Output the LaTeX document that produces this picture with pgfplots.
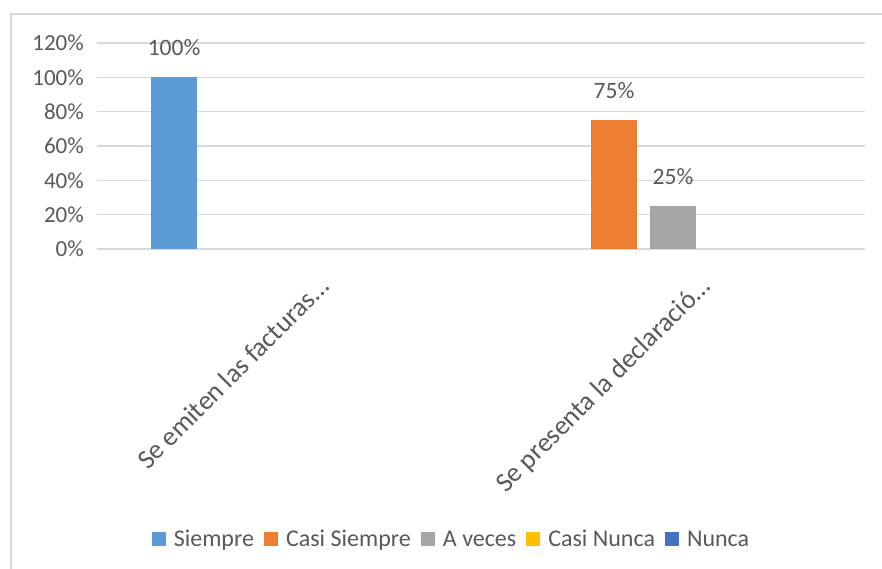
\documentclass[border=0pt]{standalone}
\usepackage{fontspec}
\setmainfont{Carlito}
\usepackage{pgfplots}
\pgfplotsset{compat=1.18}
\definecolor{cSiempre}{HTML}{5B9BD5}
\definecolor{cCasiSiempre}{HTML}{ED7D31}
\definecolor{cAveces}{HTML}{A5A5A5}
\definecolor{cCasiNunca}{HTML}{FFC000}
\definecolor{cNunca}{HTML}{4472C4}
\definecolor{gridc}{HTML}{D9D9D9}
\definecolor{txt}{HTML}{595959}
\begin{document}
\begin{tikzpicture}[x=1pt,y=1pt]
\useasboundingbox (0,0) rectangle (882,569);
\fill[white] (0,0) rectangle (882,569);
\draw[color=gridc, line width=1.2pt] (11,0) -- (11,555) -- (882,555);
\begin{axis}[
  at={(97pt,320pt)}, anchor=south west,
  width=768pt, height=206pt, scale only axis,
  xmin=-0.512, xmax=1.504, ymin=0, ymax=120,
  ybar=13pt, bar width=46pt,
  ytick={0,20,40,60,80,100,120},
  /pgf/number format/assume math mode=true,
  yticklabel={\pgfmathprintnumber{\tick}\%},
  xtick={0,1},
  xticklabels={Se emiten las facturas…, Se presenta la declaració…},
  axis line style={draw=none},
  tick style={draw=none},
  major tick length=0pt,
  ymajorgrids,
  grid style={color=gridc, line width=1.3pt},
  yticklabel style={font=\fontsize{23}{28}\selectfont, text=txt, anchor=east, inner sep=0pt, xshift=-13pt},
  xticklabel style={font=\fontsize{27}{32}\selectfont, text=txt, inner sep=0pt, xshift=25pt, yshift=-26pt, rotate=45, anchor=north east},
  nodes near coords={\pgfmathprintnumber{\pgfplotspointmeta}\%},
  every node near coord/.append style={font=\fontsize{23.5}{28}\selectfont, text=txt, inner sep=0pt, yshift=21pt},
  legend style={at={(0.4616,-1.417)}, anchor=center, draw=none, fill=none,
    font=\fontsize{24}{29}\selectfont, text=txt,
    nodes={text height=0.7em, text depth=0.22em},
    /tikz/every even column/.append style={column sep=8pt}},
  legend columns=5,
  legend image code/.code={\fill[#1] (0pt,-2pt) rectangle (14pt,12pt); \path (20pt,0pt);},
]
\addplot[fill=cSiempre, draw=none] coordinates {(0,100)};
\addplot[fill=cCasiSiempre, draw=none] coordinates {(1,75)};
\addplot[fill=cAveces, draw=none] coordinates {(1,25)};
\addplot[fill=none, draw=none, nodes near coords=,
  legend image code/.code={\fill[cCasiNunca] (0pt,-2pt) rectangle (14pt,12pt); \path (20pt,0pt);}]
  coordinates {(0,0) (1,0)};
\addplot[fill=none, draw=none, nodes near coords=,
  legend image code/.code={\fill[cNunca] (0pt,-2pt) rectangle (14pt,12pt); \path (20pt,0pt);}]
  coordinates {(0,0) (1,0)};
\legend{Siempre, Casi Siempre, A veces, Casi Nunca, Nunca}
\end{axis}
\end{tikzpicture}
\end{document}
